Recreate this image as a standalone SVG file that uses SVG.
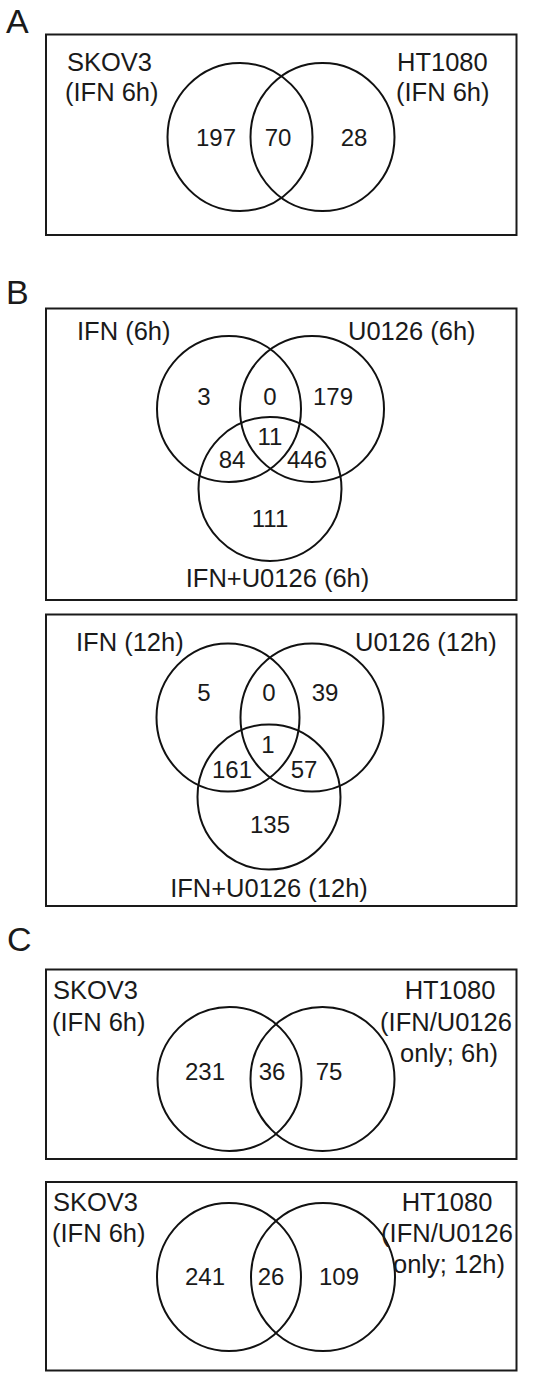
<svg xmlns="http://www.w3.org/2000/svg" width="540" height="1379" viewBox="0 0 540 1379">
<style>
.frame{fill:none;stroke:#1a1a1a;stroke-width:2}
.set{fill:none;stroke:#111;stroke-width:2}
text{font-family:"Liberation Sans",Arial,sans-serif;fill:#1a1a1a}
.lbl{font-size:25.5px}
.num{font-size:24px;text-anchor:middle}
.mid{text-anchor:middle}
.panel{font-size:34px}
</style>
<rect width="540" height="1379" fill="#fff"/>

<g id="panel-A">
<text class="panel" x="6" y="33">A</text>
<rect class="frame" x="46" y="34.5" width="470.5" height="200.5"/>
<g id="A-skov3"><ellipse class="set" cx="240" cy="137" rx="72.5" ry="74"/>
<text class="lbl" x="67" y="71">SKOV3</text><text class="lbl" x="65" y="101">(IFN 6h)</text></g>
<g id="A-ht1080"><ellipse class="set" cx="322.5" cy="137" rx="72" ry="74"/>
<text class="lbl" x="397" y="71">HT1080</text><text class="lbl" x="396" y="101">(IFN 6h)</text></g>
<text class="num" x="216" y="146">197</text>
<text class="num" x="278" y="146">70</text>
<text class="num" x="354" y="146">28</text>
</g>

<g id="panel-B1">
<text class="panel" x="6" y="304">B</text>
<rect class="frame" x="46" y="308.5" width="470.5" height="291.5"/>
<g id="B1-ifn"><ellipse class="set" cx="229" cy="409" rx="72" ry="73"/>
<text class="lbl" x="77" y="340">IFN (6h)</text></g>
<g id="B1-u0126"><ellipse class="set" cx="312" cy="409" rx="72" ry="73"/>
<text class="lbl" x="348" y="340">U0126 (6h)</text></g>
<g id="B1-combo"><ellipse class="set" cx="270" cy="489" rx="71.5" ry="72"/>
<text class="lbl mid" x="277.5" y="587">IFN+U0126 (6h)</text></g>
<text class="num" x="204" y="405">3</text>
<text class="num" x="270" y="405">0</text>
<text class="num" x="333" y="405">179</text>
<text class="num" x="270" y="445">11</text>
<text class="num" x="232" y="468">84</text>
<text class="num" x="307" y="468">446</text>
<text class="num" x="270" y="527">111</text>
</g>

<g id="panel-B2">
<rect class="frame" x="46" y="614.5" width="470.5" height="291.5"/>
<g id="B2-ifn"><ellipse class="set" cx="228" cy="717.5" rx="71.5" ry="74"/>
<text class="lbl" x="76" y="651">IFN (12h)</text></g>
<g id="B2-u0126"><ellipse class="set" cx="312" cy="717.5" rx="71.5" ry="74"/>
<text class="lbl" x="355" y="651">U0126 (12h)</text></g>
<g id="B2-combo"><ellipse class="set" cx="269" cy="797" rx="71.5" ry="72.5"/>
<text class="lbl mid" x="269" y="897">IFN+U0126 (12h)</text></g>
<text class="num" x="204" y="701">5</text>
<text class="num" x="269" y="701">0</text>
<text class="num" x="325" y="701">39</text>
<text class="num" x="268" y="753">1</text>
<text class="num" x="232" y="778">161</text>
<text class="num" x="304" y="778">57</text>
<text class="num" x="270" y="833">135</text>
</g>

<g id="panel-C1">
<text class="panel" x="7" y="951">C</text>
<rect class="frame" x="46" y="969.5" width="470.5" height="189.5"/>
<g id="C1-skov3"><ellipse class="set" cx="229.5" cy="1079" rx="72" ry="72"/>
<text class="lbl" x="53" y="999">SKOV3</text><text class="lbl" x="52" y="1031">(IFN 6h)</text></g>
<g id="C1-ht1080"><ellipse class="set" cx="322.5" cy="1079" rx="72" ry="72"/>
<text class="lbl mid" x="450" y="999">HT1080</text><text class="lbl mid" x="446" y="1031">(IFN/U0126</text><text class="lbl mid" x="449" y="1062">only; 6h)</text></g>
<text class="num" x="205" y="1080">231</text>
<text class="num" x="272" y="1080">36</text>
<text class="num" x="329" y="1080">75</text>
</g>

<g id="panel-C2">
<rect class="frame" x="46" y="1182" width="470.5" height="188.5"/>
<g id="C2-skov3"><ellipse class="set" cx="229" cy="1277" rx="72" ry="74"/>
<text class="lbl" x="53" y="1211">SKOV3</text><text class="lbl" x="52" y="1242">(IFN 6h)</text></g>
<g id="C2-ht1080"><ellipse class="set" cx="323" cy="1277" rx="72" ry="74"/>
<text class="lbl mid" x="447" y="1211">HT1080</text><text class="lbl mid" x="447" y="1242">(IFN/U0126</text><text class="lbl mid" x="449" y="1273">only; 12h)</text></g>
<text class="num" x="205" y="1285">241</text>
<text class="num" x="271" y="1285">26</text>
<text class="num" x="339" y="1285">109</text>
</g>
</svg>
